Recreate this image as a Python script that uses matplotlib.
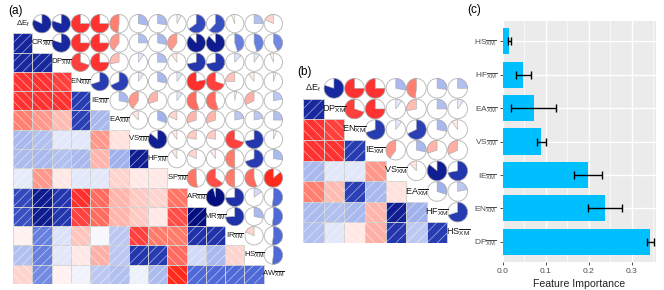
import numpy as np
import matplotlib.pyplot as plt
from matplotlib.patches import Rectangle, Circle, Wedge
from matplotlib.collections import LineCollection
from matplotlib.colors import LinearSegmentedColormap

plt.rcParams['font.family'] = ['Liberation Sans', 'DejaVu Sans']
plt.rcParams['mathtext.fontset'] = 'custom'
plt.rcParams['mathtext.rm'] = 'Liberation Sans'
plt.rcParams['mathtext.it'] = 'Liberation Sans:italic'
plt.rcParams['mathtext.bf'] = 'Liberation Sans:bold'

#
# data
#
# (a) lower triangle of the correlation matrix, row i holds r(i, j) for j < i
names_a = ['dEf', 'CR', 'DP', 'EN', 'IE', 'EA', 'VS', 'HF', 'SP', 'AR', 'MR', 'IR', 'HS', 'AW']
rows_a = [
    [0.82],
    [0.80, 0.80],
    [-0.75, -0.75, -0.70],
    [-0.75, -0.75, -0.75, 0.70],
    [-0.48, -0.40, -0.28, 0.68, 0.28],
    [0.28, 0.25, 0.10, 0.10, -0.40, -0.12],
    [0.27, 0.28, 0.25, 0.28, -0.30, 0.30, 0.86],
    [0.08, -0.40, -0.10, 0.10, 0.10, -0.18, -0.10, -0.10],
    [0.65, 0.88, 0.72, -0.78, -0.55, -0.30, -0.22, -0.18, -0.52],
    [0.62, 0.88, 0.72, -0.70, -0.55, -0.30, -0.22, -0.10, -0.65, 0.96],
    [-0.06, 0.45, 0.12, -0.25, 0.03, 0.22, -0.70, -0.50, -0.50, 0.74, 0.74],
    [0.25, 0.45, 0.10, -0.10, -0.32, 0.22, 0.72, 0.70, -0.55, 0.15, 0.28, -0.18],
    [-0.18, 0.42, -0.06, 0.05, 0.22, 0.25, 0.06, 0.27, -0.86, 0.52, 0.52, 0.52, 0.52],
]

# (b) same thing for the reduced feature set
names_b = ['dEf', 'DP', 'EN', 'IE', 'VS', 'EA', 'HF', 'HS']
rows_b = [
    [0.80],
    [-0.75, -0.70],
    [-0.75, -0.75, 0.70],
    [0.28, 0.10, 0.10, -0.40],
    [-0.48, -0.28, 0.68, 0.28, -0.12],
    [0.27, 0.25, 0.28, -0.30, 0.86, 0.30],
    [0.25, 0.10, -0.10, -0.32, 0.72, 0.22, 0.70],
]

# (c) feature importance, bottom to top
feat_c = ['DP', 'EN', 'IE', 'VS', 'EA', 'HF', 'HS']
imp_c = [0.343, 0.237, 0.198, 0.089, 0.071, 0.047, 0.0145]
err_c = [0.008, 0.040, 0.033, 0.011, 0.052, 0.017, 0.003]

#
# colours: red (negative) - white - navy (positive)
#
cmap = LinearSegmentedColormap.from_list('rwb', [
    (0.0, '#ff2000'), (0.125, '#ff3232'), (0.25, '#ff7b6b'), (0.375, '#ffc4bc'),
    (0.5, '#ffffff'), (0.625, '#b4c2f0'), (0.75, '#5470dc'), (0.875, '#1e30a8'),
    (1.0, '#000a78')])

W, H = 664, 290
fig = plt.figure(figsize=(W / 100, H / 100), dpi=100)


def px_axes(x0, y0, w, h):
    return fig.add_axes([x0 / W, 1 - (y0 + h) / H, w / W, h / H])


def lab(name):
    if name == 'dEf':
        return r'$\Delta\mathrm{E_f}$'
    return r'$\mathrm{%s}_{\overline{\mathrm{XM}}}$' % name


def full_matrix(rows):
    n = len(rows) + 1
    m = np.eye(n)
    for i, r in enumerate(rows, start=1):
        for j, v in enumerate(r):
            m[i, j] = m[j, i] = v
    return m


def corr_panel(ax, names, rows, fs):
    m = full_matrix(rows)
    n = len(names)
    segs = []
    for i in range(n):
        y = n - 1 - i
        for j in range(n):
            v = m[i, j]
            c = cmap((v + 1) / 2)
            if j < i:
                ax.add_patch(Rectangle((j, y), 1, 1, facecolor=c,
                                       edgecolor='#d2d2d2', lw=0.6))
                # shade lines: "/" for positive, "\" for negative
                if v >= 0:
                    loc = [((0, .5), (.5, 1)), ((0, 0), (1, 1)), ((.5, 0), (1, .5))]
                else:
                    loc = [((0, .5), (.5, 0)), ((0, 1), (1, 0)), ((.5, 1), (1, .5))]
                for (a, b) in loc:
                    segs.append([(j + a[0], y + a[1]), (j + b[0], y + b[1])])
            elif j > i:
                cx, cy = j + .5, y + .5
                ax.add_patch(Circle((cx, cy), 0.475, facecolor='white',
                                    edgecolor='#bdbdbd', lw=0.7))
                # clockwise from 12 o'clock if positive, anticlockwise if negative
                if v > 0:
                    t1, t2 = 90 - 360 * v, 90
                else:
                    t1, t2 = 90, 90 - 360 * v
                ax.add_patch(Wedge((cx, cy), 0.475, t1, t2, facecolor=c,
                                   edgecolor='#a8a8a8', lw=0.4))
            else:
                ax.text(j + .5, y + .5, lab(names[i]), ha='center', va='center',
                        fontsize=fs, color='#1a1a1a')
    ax.add_collection(LineCollection(segs, colors='white', linewidths=0.5, alpha=0.6))
    ax.set_xlim(0, n)
    ax.set_ylim(0, n)
    ax.axis('off')


#
# (a)
#
ax_a = px_axes(13, 14, 270, 270)
corr_panel(ax_a, names_a, rows_a, 5.6)

#
# (b)
#
ax_b = px_axes(303, 78, 165, 165)
corr_panel(ax_b, names_b, rows_b, 6.6)

#
# (c)
#
ax_c = px_axes(503, 21, 153, 241)
pos = np.arange(1, len(feat_c) + 1)
ax_c.set_facecolor('#ebebeb')
ax_c.barh(pos, imp_c, height=0.78, color='#00bfff', zorder=2)
ax_c.errorbar(imp_c, pos, xerr=err_c, fmt='none', ecolor='black',
              elinewidth=1.0, capsize=3, capthick=1.0, zorder=3)
ax_c.set_xlim(0, 0.356)
ax_c.set_ylim(0.4, len(feat_c) + 0.6)
ax_c.set_xticks([0, 0.1, 0.2, 0.3])
ax_c.set_xticklabels(['0.0', '0.1', '0.2', '0.3'])
ax_c.set_xticks([0.05, 0.15, 0.25, 0.35], minor=True)
ax_c.set_yticks(pos)
ax_c.set_yticklabels([lab(f) for f in feat_c])
ax_c.set_axisbelow(True)
ax_c.grid(True, which='major', color='white', lw=1.0)
ax_c.grid(True, which='minor', axis='x', color='white', lw=0.5)
for s in ax_c.spines.values():
    s.set_visible(False)
ax_c.tick_params(which='major', length=2.5, width=0.6, color='#333333',
                 labelsize=6.0, labelcolor='#4d4d4d', pad=2)
ax_c.tick_params(which='minor', length=0)
ax_c.set_xlabel('Feature Importance', fontsize=7.6, color='#222222', labelpad=3)

fig.text(8 / W, 1 - 11 / H, '(a)', fontsize=8.5, va='center')
fig.text(297 / W, 1 - 72 / H, '(b)', fontsize=8.5, va='center')
fig.text(467 / W, 1 - 10 / H, '(c)', fontsize=8.5, va='center')

fig.savefig('out.png', dpi=100)
